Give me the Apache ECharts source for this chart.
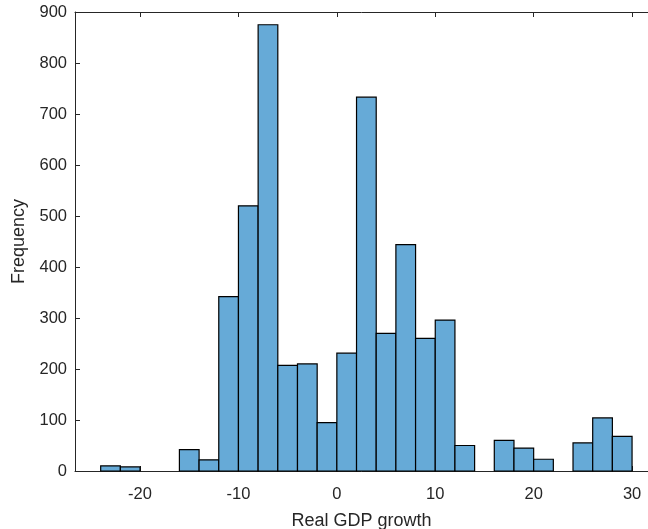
<!DOCTYPE html>
<html>
<head>
<meta charset="utf-8">
<script src="https://cdn.jsdelivr.net/npm/echarts@6/dist/echarts.min.js"></script>
<style>html,body{margin:0;padding:0;background:#fff}#c{width:648px;height:529px}</style>
</head>
<body>
<div id="c"></div>
<script>
// Histogram bins (left edges) and counts
var binStarts = [-24,-22,-20,-18,-16,-14,-12,-10,-8,-6,-4,-2,0,2,4,6,8,10,12,14,16,18,20,22,24,26,28];
var counts    = [10,8,0,0,42,22,342,520,875,207,210,95,231,733,270,444,260,296,50,0,60,45,23,0,55,104,68];
var binWidth = 2;
var xTicks = [-20,-10,0,10,20,30];
var yTicks = [0,100,200,300,400,500,600,700,800,900];

var data = binStarts.map(function(s,i){ return [s, s+binWidth, counts[i]]; });
var axisColor = '#262626';
var font = 'Liberation Sans, Arial, sans-serif';
var xMin = -26.61, xMax = 31.62;

var chart = echarts.init(document.getElementById('c'));
chart.setOption({
  animation: false,
  grid: {left: 75, top: 12, right: 0, bottom: 58, containLabel: false, outerBoundsMode: 'none'},
  xAxis: [{
    type: 'value', min: xMin, max: xMax, position: 'bottom',
    splitLine: {show: false},
    axisLine: {onZero: false, lineStyle: {color: axisColor, width: 1}},
    axisTick: {inside: true, length: 5, customValues: xTicks, lineStyle: {color: axisColor}},
    axisLabel: {customValues: xTicks, color: axisColor, fontSize: 16.5, fontFamily: font, margin: 15},
    name: 'Real GDP growth', nameLocation: 'middle', nameGap: 41,
    nameTextStyle: {color: axisColor, fontSize: 18, fontFamily: font}
  },{
    type: 'value', min: xMin, max: xMax, position: 'top',
    splitLine: {show: false},
    axisLine: {onZero: false, lineStyle: {color: axisColor, width: 1}},
    axisTick: {inside: true, length: 5, customValues: xTicks, lineStyle: {color: axisColor}},
    axisLabel: {show: false}
  }],
  yAxis: {
    type: 'value', min: 0, max: 900, interval: 100, position: 'left',
    splitLine: {show: false},
    axisLine: {show: true, onZero: false, lineStyle: {color: axisColor, width: 1}},
    axisTick: {show: true, inside: true, length: 5, lineStyle: {color: axisColor}},
    axisLabel: {color: axisColor, fontSize: 16.5, fontFamily: font, margin: 8},
    name: 'Frequency', nameLocation: 'middle', nameGap: 47,
    nameTextStyle: {color: axisColor, fontSize: 18, fontFamily: font}
  },
  series: [{
    type: 'custom',
    xAxisIndex: 0,
    encode: {x: [0,1], y: 2},
    data: data,
    renderItem: function(params, api){
      var v = api.value(2);
      if (!v) return null;
      var p0 = api.coord([api.value(0), v]);
      var p1 = api.coord([api.value(1), 0]);
      return {
        type: 'rect',
        shape: {x: p0[0], y: p0[1], width: p1[0]-p0[0], height: p1[1]-p0[1]},
        style: {fill: '#66AAD7', stroke: '#000', lineWidth: 1.2}
      };
    }
  }]
});
</script>
</body>
</html>
